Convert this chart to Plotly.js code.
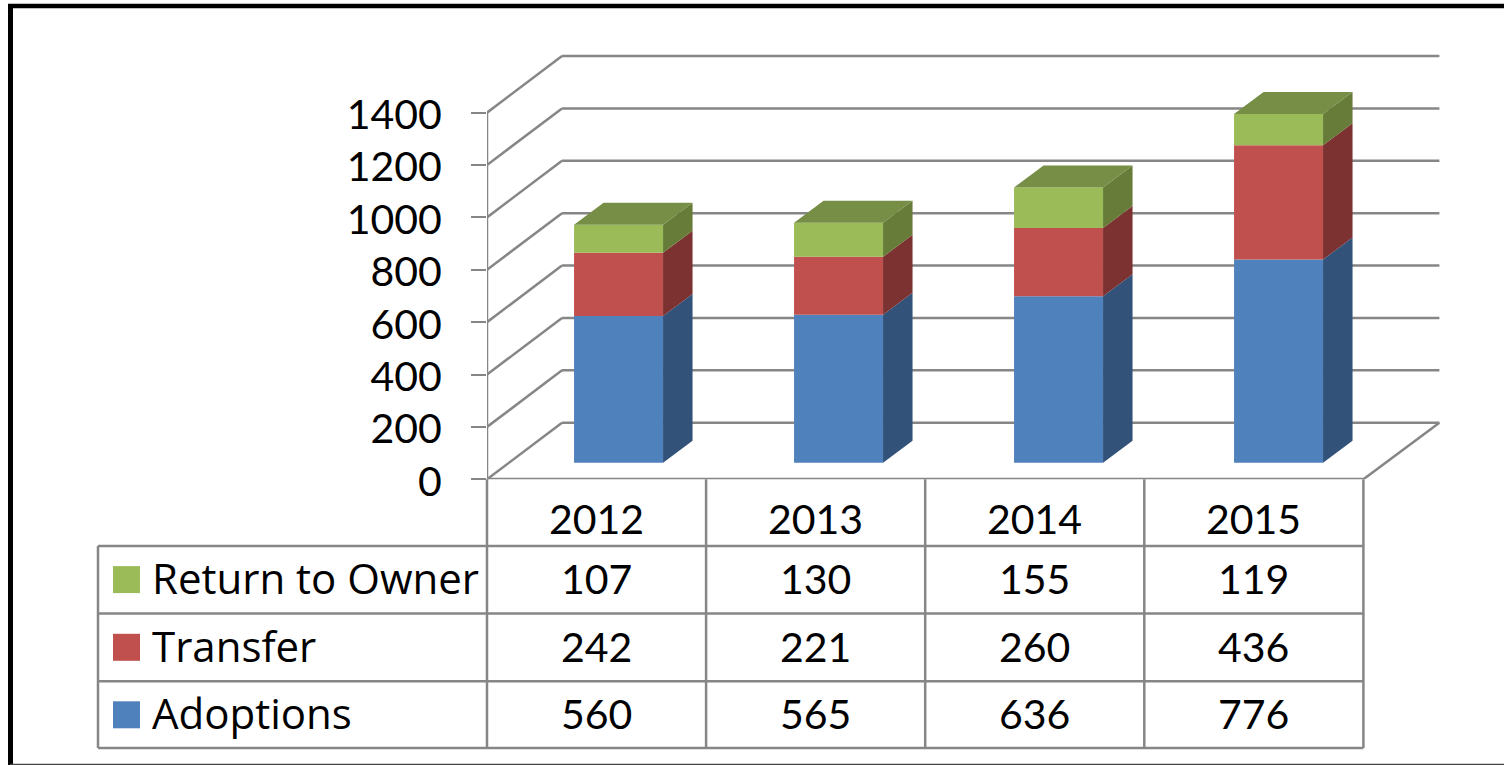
<!DOCTYPE html>
<html>
<head>
<meta charset="utf-8">
<script src="https://cdn.plot.ly/plotly-3.0.1.min.js"></script>
<style>html,body{margin:0;padding:0;background:#fff;overflow:hidden}</style>
</head>
<body>
<div id="chart" style="width:1504px;height:765px"></div>
<script>
const years = ['2012', '2013', '2014', '2015'];
const adoptions = [560, 565, 636, 776];
const transfer = [242, 221, 260, 436];
const returnToOwner = [107, 130, 155, 119];
const yTicks = [0, 200, 400, 600, 800, 1000, 1200, 1400];

const W = 1504, H = 765;
const FONT = 'Lato, "Open Sans", sans-serif';
const NAME_FONT = '"Open Sans", Lato, sans-serif';
const GRID = '#868686';
const colX0 = 487, colW = 219.1, axisY = 479.3, pxPerUnit = 0.2619;
const plotRight = 1445, plotTop = 50;
const px2x = p => p / colW, px2y = p => p / pxPerUnit;

const rows = [
  {name: 'Return to Owner', vals: returnToOwner, front: '#9BBB59', side: '#667C38', cy: 579.6},
  {name: 'Transfer', vals: transfer, front: '#C0504D', side: '#7B3231', cy: 647.3},
  {name: 'Adoptions', vals: adoptions, front: '#4F81BD', side: '#32527A', cy: 714.8}
];
const topColor = '#768E45';

// 3-D offsets, in axis units
const barShift = px2x(22), barPitch = px2x(220), barLift = px2y(16.6), barW = px2x(89);
const barDx = px2x(29.5), barDy = px2y(22);
const wallDx = px2x(75), wallDy = px2y(56.6);
const xs = years.map((_, i) => i * barPitch + barShift);

const traces = [];
const stackOrder = [rows[2], rows[1], rows[0]];
const running = years.map(() => barLift);
stackOrder.forEach(r => {
  const base = running.slice();
  traces.push({type: 'bar', x: xs, y: r.vals, base: base, width: barW,
    marker: {color: r.front, line: {width: 0}}, hoverinfo: 'skip', showlegend: false});
  const sx = [], sy = [];
  years.forEach((_, i) => {
    const xr = xs[i] + barW / 2, b = base[i], t = base[i] + r.vals[i];
    sx.push(xr, xr + barDx, xr + barDx, xr, xr, null);
    sy.push(b, b + barDy, t + barDy, t, b, null);
    running[i] = t;
  });
  traces.push({type: 'scatter', mode: 'lines', x: sx, y: sy, fill: 'toself', fillcolor: r.side,
    line: {width: 0, color: r.side}, hoverinfo: 'skip', showlegend: false});
});
const tx = [], ty = [];
years.forEach((_, i) => {
  const xl = xs[i] - barW / 2, xr = xs[i] + barW / 2, t = running[i];
  tx.push(xl, xl + barDx, xr + barDx, xr, xl, null);
  ty.push(t, t + barDy, t + barDy, t, t, null);
});
traces.push({type: 'scatter', mode: 'lines', x: tx, y: ty, fill: 'toself', fillcolor: topColor,
  line: {width: 0, color: topColor}, hoverinfo: 'skip', showlegend: false});

const shapes = [];
const gridLine = {color: GRID, width: 2.5};
const xLeft = -0.5, xRight = years.length - 0.5;
yTicks.forEach(v => {
  shapes.push({type: 'line', layer: 'below', xref: 'x', yref: 'y', x0: xLeft, y0: v, x1: xLeft + wallDx, y1: v + wallDy, line: gridLine});
  shapes.push({type: 'line', layer: 'below', xref: 'x', yref: 'y', x0: xLeft + wallDx, y0: v + wallDy, x1: xRight + wallDx + px2x(1), y1: v + wallDy, line: gridLine});
});
shapes.push({type: 'line', layer: 'below', xref: 'x', yref: 'y', x0: xLeft, y0: 0, x1: xLeft, y1: yTicks[yTicks.length - 1], line: gridLine});
shapes.push({type: 'line', layer: 'below', xref: 'x', yref: 'y', x0: xLeft, y0: 0, x1: xRight, y1: 0, line: {color: GRID, width: 3}});
shapes.push({type: 'line', layer: 'below', xref: 'x', yref: 'y', x0: xRight, y0: 0, x1: xRight + wallDx + px2x(1), y1: wallDy, line: gridLine});

// table grid, in page pixels
const pl = (x0, y0, x1, y1, line) => shapes.push({type: 'line', xref: 'paper', yref: 'paper',
  x0: x0 / W, x1: x1 / W, y0: 1 - y0 / H, y1: 1 - y1 / H, line: line || gridLine});
const tableLeft = 98, tableTop = 546, tableBottom = 748;
[546, 613.5, 681.3, 748].forEach(y => pl(tableLeft, y, colX0 + colW * years.length, y));
pl(tableLeft, tableTop, tableLeft, tableBottom);
for (let i = 0; i <= years.length; i++) pl(colX0 + colW * i, axisY, colX0 + colW * i, tableBottom);

// picture frame
pl(8, 6, W, 6, {color: '#000', width: 4.5});
pl(10.5, 4, 10.5, H, {color: '#000', width: 5});
pl(10, 764.5, W, 764.5, {color: '#444', width: 1.5});

const annotations = [];
const note = (text, x, xref, yPx, xanchor, family) => annotations.push({text, x, xref, y: 1 - yPx / H, yref: 'paper',
  xanchor, yanchor: 'middle', showarrow: false, font: {family: family || FONT, size: family ? 42 : 41, color: '#000'}});
years.forEach((y, i) => note(y, i, 'x', 518.5, 'center'));
rows.forEach(r => {
  shapes.push({type: 'rect', xref: 'paper', yref: 'paper', x0: 113 / W, x1: 140 / W,
    y0: 1 - (r.cy - 13.5) / H, y1: 1 - (r.cy + 13.5) / H, fillcolor: r.front, line: {width: 0}});
  note(r.name, 150 / W, 'paper', r.cy - 2, 'left', NAME_FONT);
  r.vals.forEach((v, i) => note(String(v), i, 'x', r.cy - 1, 'center'));
});

const layout = {
  width: W, height: H, autosize: false,
  margin: {l: 0, r: 0, t: 0, b: 0},
  paper_bgcolor: '#fff', plot_bgcolor: 'rgba(0,0,0,0)',
  showlegend: false, barmode: 'overlay', font: {family: FONT},
  xaxis: {
    domain: [colX0 / W, plotRight / W],
    range: [xLeft, xLeft + (plotRight - colX0) / colW],
    showgrid: false, zeroline: false, showline: false, ticks: '', showticklabels: false, fixedrange: true
  },
  yaxis: {
    domain: [1 - axisY / H, 1 - plotTop / H],
    range: [0, (axisY - plotTop) / pxPerUnit],
    tickmode: 'array', tickvals: yTicks, ticktext: yTicks.map(String),
    showgrid: false, zeroline: false, showline: false,
    ticks: 'outside', ticklen: 15, tickwidth: 2, tickcolor: GRID,
    ticklabelstandoff: 21, ticklabelshift: 2,
    tickfont: {family: FONT, size: 41, color: '#000'}, fixedrange: true
  },
  shapes, annotations
};
Plotly.newPlot('chart', traces, layout, {displayModeBar: false, staticPlot: true});
</script>
</body>
</html>
